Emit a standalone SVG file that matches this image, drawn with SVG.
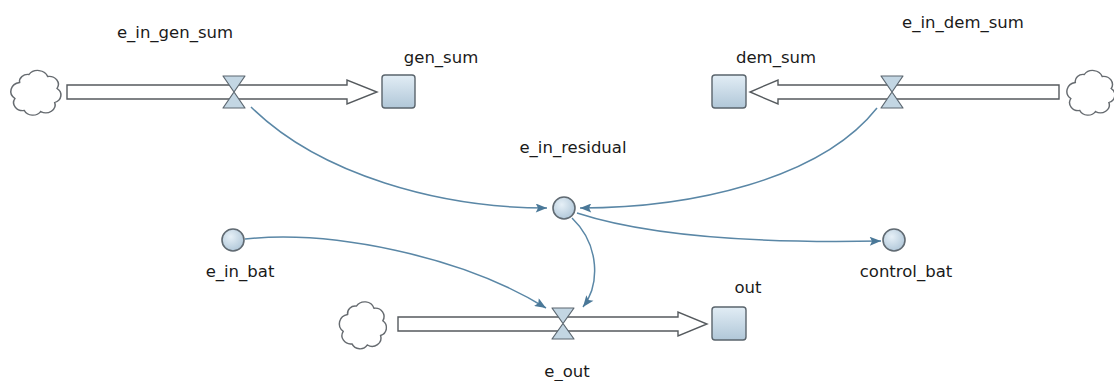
<svg xmlns="http://www.w3.org/2000/svg" width="1114" height="381" viewBox="0 0 1114 381">
  <style>
    .lbl { font-family: "DejaVu Sans", "Liberation Sans", sans-serif; font-size: 16.5px; fill: #1a1a1a; text-anchor: middle; }
    .pipe { fill: #ffffff; stroke: #555a5e; stroke-width: 1.4; stroke-linejoin: miter; }
    .valve { fill: #c3d6e3; stroke: #5c6770; stroke-width: 1.2; stroke-linejoin: round; }
    .stock { fill: url(#boxFill); stroke: #5a646c; stroke-width: 1.4; }
    .aux { fill: url(#auxFill); stroke: #606a72; stroke-width: 1.6; }
    .cloud { fill: #ffffff; stroke: #666b70; stroke-width: 1.3; }
    .link { fill: none; stroke: #5a87a6; stroke-width: 1.5; marker-end: url(#head); }
  </style>
  <defs>
    <linearGradient id="boxFill" x1="0" y1="0" x2="0" y2="1">
      <stop offset="0" stop-color="#e2edf5"/>
      <stop offset="1" stop-color="#b0c7d8"/>
    </linearGradient>
    <radialGradient id="auxFill" cx="0.4" cy="0.35" r="0.7">
      <stop offset="0" stop-color="#e6f0f7"/>
      <stop offset="1" stop-color="#afc6d8"/>
    </radialGradient>
    <marker id="head" viewBox="0 0 10 8" refX="10" refY="4" markerUnits="userSpaceOnUse" markerWidth="12" markerHeight="9" orient="auto">
      <path d="M0,0 L10,4 L0,8 L2,4 z" fill="#4a7898"/>
    </marker>
    <!-- source/sink cloud outline, centred on the origin -->
    <path id="cloudShape" d="M -14,-10 a 7,7 0 0 1 8,-8 a 9,9 0 0 1 16,2 a 8,8 0 0 1 8,12 a 8,8 0 0 1 -2,14 a 8,8 0 0 1 -12,9 a 8,8 0 0 1 -14,-1 a 8,8 0 0 1 -8,-12 a 9,9 0 0 1 4,-16 z"/>
  </defs>

  <!-- connectors (causal links) -->
  <g id="connectors">
    <path class="link" d="M251,107 C 320,175 440,208 547,208"/>
    <path class="link" d="M877,108 C 820,180 690,208 580,208"/>
    <path class="link" d="M577,213 C 660,240 780,243 881,241"/>
    <path class="link" d="M572,218 C 600,245 600,285 583,307"/>
    <path class="link" d="M245,239 C 330,230 460,255 546,308"/>
  </g>

  <!-- flow e_in_gen_sum: cloud -> gen_sum -->
  <g id="cloud_gen">
    <use href="#cloudShape" class="cloud" transform="translate(36,92.5) scale(1.17,1.0)"/>
  </g>
  <g id="e_in_gen_sum">
    <polygon class="pipe" points="67,85 347,85 347,80 377,92 347,104 347,99 67,99"/>
    <polygon class="valve" points="223,76 245,76 234,92 245,108 223,108 234,92"/>
    <text class="lbl" x="175" y="38">e_in_gen_sum</text>
  </g>
  <g id="gen_sum">
    <rect class="stock" x="382" y="75" width="33" height="33" rx="3"/>
    <text class="lbl" x="441" y="63">gen_sum</text>
  </g>

  <!-- flow e_in_dem_sum: cloud -> dem_sum -->
  <g id="cloud_dem">
    <use href="#cloudShape" class="cloud" transform="translate(1091,92.5) scale(1.12,1.0)"/>
  </g>
  <g id="e_in_dem_sum">
    <polygon class="pipe" points="1059,85 778,85 778,80 750,92 778,104 778,99 1059,99"/>
    <polygon class="valve" points="881,76 903,76 892,92 903,108 881,108 892,92"/>
    <text class="lbl" x="963" y="28">e_in_dem_sum</text>
  </g>
  <g id="dem_sum">
    <rect class="stock" x="712" y="75" width="34" height="33" rx="3"/>
    <text class="lbl" x="776" y="63">dem_sum</text>
  </g>

  <!-- auxiliaries -->
  <g id="e_in_residual">
    <circle class="aux" cx="564" cy="208" r="11"/>
    <text class="lbl" x="573" y="153">e_in_residual</text>
  </g>
  <g id="e_in_bat">
    <circle class="aux" cx="233" cy="240" r="11"/>
    <text class="lbl" x="240" y="277">e_in_bat</text>
  </g>
  <g id="control_bat">
    <circle class="aux" cx="894" cy="240" r="11"/>
    <text class="lbl" x="906" y="277">control_bat</text>
  </g>

  <!-- flow e_out: cloud -> out -->
  <g id="cloud_out">
    <use href="#cloudShape" class="cloud" transform="translate(363,325) scale(1.1,1.05)"/>
  </g>
  <g id="e_out">
    <polygon class="pipe" points="398,317 678,317 678,312 707,324 678,336 678,331 398,331"/>
    <polygon class="valve" points="552,308 574,308 563,323.5 574,339 552,339 563,323.5"/>
    <text class="lbl" x="567" y="377">e_out</text>
  </g>
  <g id="out">
    <rect class="stock" x="712" y="307" width="34" height="33" rx="3"/>
    <text class="lbl" x="748" y="293">out</text>
  </g>
</svg>
